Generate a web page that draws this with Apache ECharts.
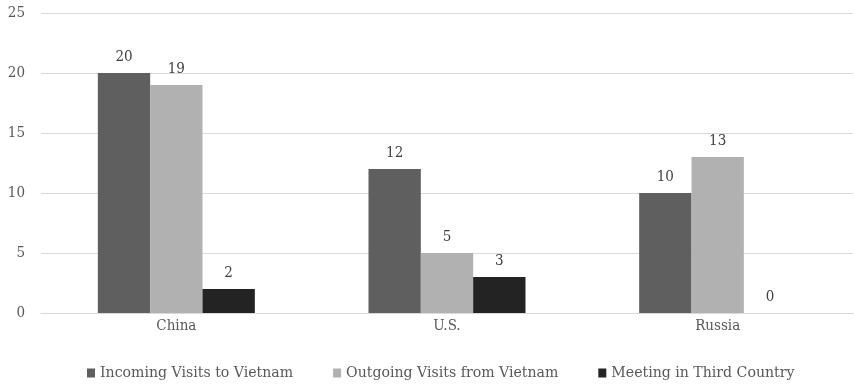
<!DOCTYPE html>
<html><head><meta charset="utf-8">
<script src="https://cdn.jsdelivr.net/npm/echarts@6/dist/echarts.min.js"></script>
<style>html,body{margin:0;padding:0;background:#fff}#c{width:854px;height:386px}</style>
</head><body><div id="c"></div>
<script>
var categories = ["China", "U.S.", "Russia"];
var incoming = [20, 12, 10];
var outgoing = [19, 5, 13];
var thirdCountry = [2, 3, 0];
var seriesNames = ["Incoming Visits to Vietnam", "Outgoing Visits from Vietnam", "Meeting in Third Country"];
var colors = ["#5f5f5f", "#b1b1b1", "#232323"];
var FONT = "DejaVu Serif Condensed";
var chart = echarts.init(document.getElementById('c'));
function mk(name, data, color) {
  return {
    name: name, type: 'bar', data: data, barGap: '0%', barCategoryGap: '42%',
    itemStyle: {color: color},
    label: {show: true, position: 'top', distance: 8, color: '#404040', fontFamily: FONT, fontSize: 15}
  };
}
chart.setOption({
  animation: false,
  color: colors,
  grid: {left: 41, right: 1, top: 13, bottom: 73},
  legend: {
    bottom: 5, left: 87, padding: 0, itemWidth: 8, itemHeight: 9, itemGap: 40,
    icon: 'rect',
    textStyle: {color: '#595959', fontFamily: FONT, fontSize: 15.7}
  },
  xAxis: {
    type: 'category', data: categories,
    axisLine: {lineStyle: {color: '#d9d9d9'}}, axisTick: {show: false},
    axisLabel: {color: '#595959', fontFamily: FONT, fontSize: 15, margin: 6}
  },
  yAxis: {
    type: 'value', min: 0, max: 25, interval: 5,
    axisLine: {show: false}, axisTick: {show: false},
    splitLine: {lineStyle: {color: '#d9d9d9', width: 1}},
    axisLabel: {color: '#595959', fontFamily: FONT, fontSize: 15, margin: 16}
  },
  series: [mk(seriesNames[0], incoming, colors[0]), mk(seriesNames[1], outgoing, colors[1]), mk(seriesNames[2], thirdCountry, colors[2])]
});
</script></body></html>
